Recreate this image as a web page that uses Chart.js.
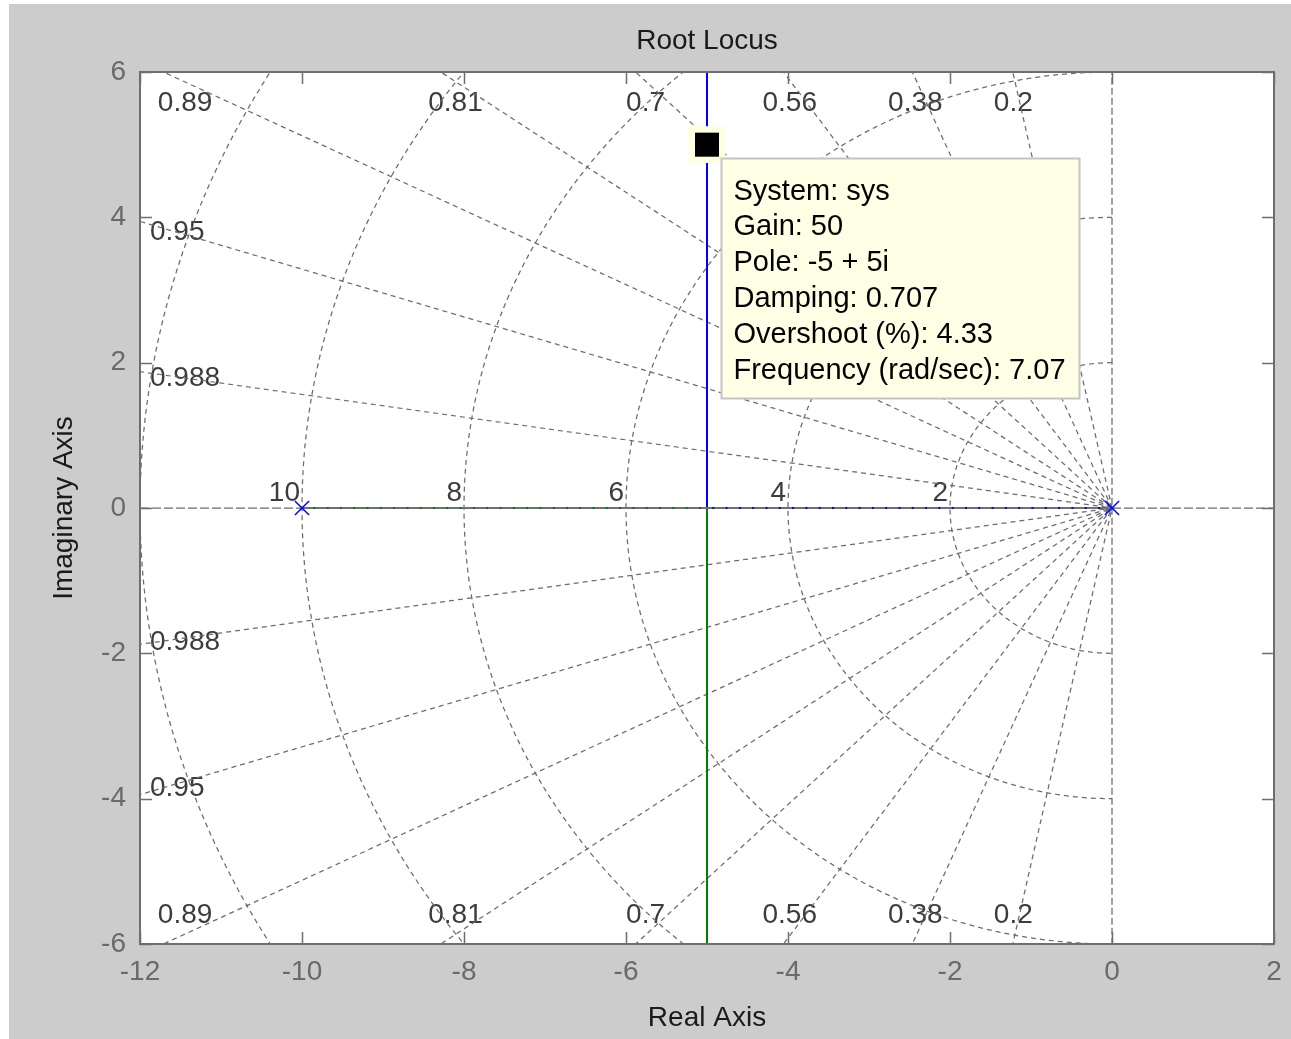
<!DOCTYPE html>
<html><head><meta charset="utf-8">
<script src="https://cdn.jsdelivr.net/npm/chart.js@4.4.0/dist/chart.umd.min.js"></script>
<style>html,body{margin:0;padding:0;background:#fff;}canvas{display:block;}</style>
</head><body>
<canvas id="c" width="1291" height="1039"></canvas>
<script>
// ---- data ----
const xTicks = [-12, -10, -8, -6, -4, -2, 0, 2];
const yTicks = [-6, -4, -2, 0, 2, 4, 6];
const poles = [-10, 0];
const branchBlueX = [0, -5, -5];
const branchBlueY = [0, 0, 8];
const branchGreenX = [-10, -5, -5];
const branchGreenY = [0, 0, -8];
const dampingValues = [0.2, 0.38, 0.56, 0.7, 0.81, 0.89, 0.95, 0.988];
const dampingLabels = ['0.2', '0.38', '0.56', '0.7', '0.81', '0.89', '0.95', '0.988'];
const wnValues = [2, 4, 6, 8, 10, 12];
const wnLabels = ['2', '4', '6', '8', '10', ''];
const datatipX = -5;
const datatipY = 5;
const datatipLines = ['System: sys', 'Gain: 50', 'Pole: -5 + 5i', 'Damping: 0.707', 'Overshoot (%): 4.33', 'Frequency (rad/sec): 7.07'];

// ---- styling ----
const FONT = '"Liberation Sans", Arial, sans-serif';
const GRID = '#6c6c6c';
const W = 1291, H = 1039;

function gridLine(points, dash) {
  return { type: 'line', data: points, borderColor: GRID, borderWidth: 1.25, borderDash: dash || [5, 4],
    pointRadius: 0, showLine: true, fill: false, tension: 0, order: 50 };
}

const datasets = [];
// damping rays
dampingValues.forEach(z => {
  const s = Math.sqrt(1 - z * z), R = 40;
  datasets.push(gridLine([{x: -R * z, y: R * s}, {x: 0, y: 0}, {x: -R * z, y: -R * s}]));
});
// zeta = 0 and zeta = 1 lines
datasets.push(gridLine([{x: 0, y: -40}, {x: 0, y: 40}], [7, 3]));
datasets.push(gridLine([{x: -40, y: 0}, {x: 40, y: 0}], [9, 3]));
// natural frequency arcs
wnValues.forEach(w => {
  const pts = [];
  for (let k = 0; k <= 180; k++) {
    const a = Math.PI / 2 + Math.PI * k / 180;
    pts.push({x: w * Math.cos(a), y: w * Math.sin(a)});
  }
  datasets.push(gridLine(pts));
});
// locus branches
const toPts = (xs, ys) => xs.map((v, i) => ({x: v, y: ys[i]}));
datasets.push({ type: 'line', data: toPts(branchBlueX, branchBlueY), borderColor: '#0000ff', borderWidth: 2,
  pointRadius: 0, showLine: true, fill: false, order: 40 });
datasets.push({ type: 'line', data: toPts(branchGreenX, branchGreenY), borderColor: '#008000', borderWidth: 2,
  pointRadius: 0, showLine: true, fill: false, order: 40 });
// gray real-axis line on top of the real-axis locus
datasets.push({ type: 'line', data: [{x: Math.min(...poles), y: 0}, {x: Math.max(...poles), y: 0}], borderColor: '#707070',
  borderWidth: 2, borderDash: [11.3, 2], pointRadius: 0, showLine: true, fill: false, order: 30 });
// poles
datasets.push({ type: 'scatter', data: poles.map(p => ({x: p, y: 0})), pointStyle: 'crossRot', pointRadius: 10,
  borderColor: '#0000ff', backgroundColor: '#0000ff', pointBorderWidth: 1.5, showLine: false, order: 20 });
// data tip marker (halo + black square)
datasets.push({ type: 'scatter', data: [{x: datatipX, y: datatipY}], pointStyle: 'rect', pointRadius: 26,
  backgroundColor: '#ffffe1', borderColor: '#ffffe1', pointBorderWidth: 0, order: 11 });
datasets.push({ type: 'scatter', data: [{x: datatipX, y: datatipY}], pointStyle: 'rect', pointRadius: 17,
  backgroundColor: '#000000', borderColor: '#000000', pointBorderWidth: 0, order: 10 });

const bgPlugin = {
  id: 'bg',
  beforeDraw(chart) {
    const c = chart.ctx, a = chart.chartArea;
    c.save();
    c.fillStyle = '#ffffff'; c.fillRect(0, 0, W, H);
    c.fillStyle = '#cccccc'; c.fillRect(9, 4, W - 9, H - 4);
    c.fillStyle = '#ffffff'; c.fillRect(a.left, a.top, a.right - a.left, a.bottom - a.top);
    c.restore();
  }
};

const labelPlugin = {
  id: 'gridLabels',
  beforeDatasetsDraw(chart) {
    const c = chart.ctx, xs = chart.scales.x, ys = chart.scales.y, a = chart.chartArea;
    c.save();
    c.font = '28px ' + FONT; c.fillStyle = '#3c3c3c'; c.textBaseline = 'alphabetic';
    const xmin = xs.min, ymax = ys.max;
    dampingValues.forEach((z, i) => {
      const t = Math.sqrt(1 - z * z) / z;
      const yEdge = -xmin * t;
      if (yEdge < ymax) {
        c.textAlign = 'left';
        [1, -1].forEach(sg => c.fillText(dampingLabels[i], a.left + 10, ys.getPixelForValue(sg * 0.97 * yEdge) + 10));
      } else {
        c.textAlign = 'center';
        const px = xs.getPixelForValue(-(ymax * 0.975) / t) - 2;
        c.fillText(dampingLabels[i], px, a.top + 39);
        c.fillText(dampingLabels[i], px, a.bottom - 21);
      }
    });
    c.textAlign = 'right';
    wnValues.forEach((w, i) => {
      if (!wnLabels[i]) return;
      c.fillText(wnLabels[i], xs.getPixelForValue(-w) - 2, ys.getPixelForValue(0) - 7);
    });
    c.restore();
  }
};

const boxPlugin = {
  id: 'box',
  afterDatasetsDraw(chart) {
    const c = chart.ctx, xs = chart.scales.x, ys = chart.scales.y, a = chart.chartArea;
    c.save();
    c.strokeStyle = '#6e6e6e'; c.lineWidth = 1.5;
    c.beginPath();
    xTicks.forEach(v => { const p = Math.round(xs.getPixelForValue(v)) + 0.5;
      c.moveTo(p, a.bottom); c.lineTo(p, a.bottom - 12); c.moveTo(p, a.top); c.lineTo(p, a.top + 12); });
    yTicks.forEach(v => { const p = Math.round(ys.getPixelForValue(v)) + 0.5;
      c.moveTo(a.left, p); c.lineTo(a.left + 12, p); c.moveTo(a.right, p); c.lineTo(a.right - 12, p); });
    c.stroke();
    c.lineWidth = 2;
    c.strokeRect(a.left, a.top, a.right - a.left, a.bottom - a.top);
    c.restore();
  },
  afterDraw(chart) {
    const c = chart.ctx, xs = chart.scales.x, ys = chart.scales.y;
    const px = xs.getPixelForValue(datatipX), py = ys.getPixelForValue(datatipY);
    const bx = Math.round(px + 14) + 0.5, by = Math.round(py + 13) + 0.5, bw = 358, bh = 240;
    c.save();
    c.fillStyle = '#ffffe6'; c.fillRect(bx, by, bw, bh);
    c.strokeStyle = '#c4c4c4'; c.lineWidth = 2; c.strokeRect(bx, by, bw, bh);
    c.fillStyle = '#000000'; c.font = '29px ' + FONT; c.textAlign = 'left'; c.textBaseline = 'alphabetic';
    datatipLines.forEach((s, i) => c.fillText(s, bx + 12, by + 41 + i * 35.8));
    c.restore();
  }
};

new Chart(document.getElementById('c'), {
  type: 'scatter',
  data: { datasets },
  plugins: [bgPlugin, labelPlugin, boxPlugin],
  options: {
    responsive: false, animation: false, events: [],
    layout: { autoPadding: false, padding: { left: 0, right: 17, top: 0, bottom: 0 } },
    plugins: {
      legend: { display: false }, tooltip: { enabled: false },
      title: { display: true, text: 'Root Locus', fullSize: false, color: '#1a1a1a',
        font: { family: FONT, size: 28, weight: 'normal' }, padding: { top: 24, bottom: 14.4 } }
    },
    scales: {
      x: { type: 'linear', min: -12, max: 2,
        afterBuildTicks: s => { s.ticks = xTicks.map(v => ({value: v})); },
        afterFit: s => { s.height = 95; s.paddingLeft = 0; s.paddingRight = 0; },
        grid: { display: false, drawTicks: false }, border: { display: false },
        ticks: { color: '#6a6a6a', font: { family: FONT, size: 28 }, padding: 11, autoSkip: false, maxRotation: 0,
          callback: v => String(v) },
        title: { display: true, text: 'Real Axis', color: '#1a1a1a', font: { family: FONT, size: 28 }, padding: { top: 4 } } },
      y: { type: 'linear', min: -6, max: 6,
        afterBuildTicks: s => { s.ticks = yTicks.map(v => ({value: v})); },
        afterFit: s => { s.width = 140; s.paddingTop = 0; s.paddingBottom = 0; },
        grid: { display: false, drawTicks: false }, border: { display: false },
        ticks: { color: '#6a6a6a', font: { family: FONT, size: 28 }, padding: 14, autoSkip: false,
          callback: v => String(v) },
        title: { display: true, text: 'Imaginary Axis', color: '#1a1a1a', font: { family: FONT, size: 28 }, padding: { top: 47 } } }
    }
  }
});
</script>
</body></html>
